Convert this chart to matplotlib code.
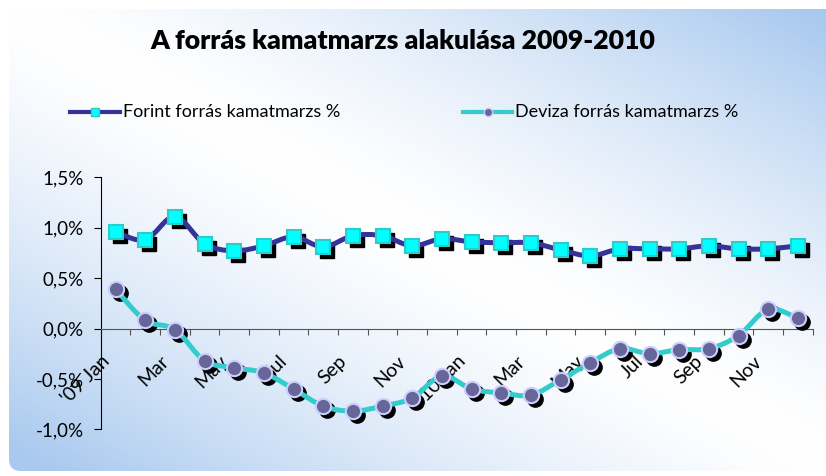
import matplotlib
matplotlib.use("Agg")
import matplotlib.pyplot as plt
import matplotlib.transforms as mtransforms
from matplotlib.patches import FancyBboxPatch, PathPatch
from matplotlib.path import Path
from matplotlib.lines import Line2D
import numpy as np

plt.rcParams['font.family'] = ['Lato', 'DejaVu Sans']

# ── Adatok ───────────────────────────────────────────────────────────────────
TITLE = "A forrás kamatmarzs alakulása 2009-2010"
SERIES_FORINT = "Forint forrás kamatmarzs %"
SERIES_DEVIZA = "Deviza forrás kamatmarzs %"

month_labels = ["'09 Jan", "Mar", "May", "Jul", "Sep", "Nov",
                "'10 Jan", "Mar", "May", "Jul", "Sep", "Nov"]

forint = [0.96, 0.88, 1.11, 0.84, 0.77, 0.82, 0.91, 0.81, 0.92, 0.92, 0.82, 0.89,
          0.86, 0.85, 0.85, 0.78, 0.72, 0.79, 0.79, 0.79, 0.82, 0.79, 0.79, 0.82]
deviza = [0.39, 0.08, -0.01, -0.32, -0.39, -0.44, -0.60, -0.77, -0.82, -0.77, -0.69, -0.47,
          -0.60, -0.64, -0.66, -0.51, -0.34, -0.20, -0.25, -0.21, -0.20, -0.07, 0.19, 0.10]

yticks = [-1.0, -0.5, 0.0, 0.5, 1.0, 1.5]

# ── Színek ───────────────────────────────────────────────────────────────────
C_FORINT_LINE = "#333399"
C_FORINT_FACE = "#00ffff"
C_FORINT_EDGE = "#2ccccc"
C_DEVIZA_LINE = "#33cccc"
C_DEVIZA_FACE = "#666699"
C_DEVIZA_EDGE = "#ccccff"
C_BLUE = np.array([169, 201, 239]) / 255.0

W, H = 826, 476


def smooth_path(xs, ys):
    """Excel-szerű simított vonal (Catmull-Rom -> Bezier)."""
    pts = np.column_stack([xs, ys])
    n = len(pts)
    verts = [pts[0]]
    codes = [Path.MOVETO]
    for i in range(n - 1):
        p0 = pts[max(i - 1, 0)]
        p1 = pts[i]
        p2 = pts[i + 1]
        p3 = pts[min(i + 2, n - 1)]
        c1 = p1 + (p2 - p0) / 6.0
        c2 = p2 - (p3 - p1) / 6.0
        verts += [c1, c2, p2]
        codes += [Path.CURVE4] * 3
    return Path(verts, codes)


fig = plt.figure(figsize=(W / 100, H / 100), dpi=100)

# ── Háttér: átlós színátmenet ───────────────────────────────────────────────
bg = fig.add_axes([0, 0, 1, 1], zorder=0)
bg.set_xlim(0, W)
bg.set_ylim(H, 0)
bg.axis("off")
x0, y0, x1, y1 = 9, 9, W + 20, 471
gx = np.linspace(0, 1, 300)
gy = np.linspace(0, 1, 200)
U, V = np.meshgrid(gx, gy)
t = np.clip(np.abs(U - V) * 1.05, 0, 1) ** 1.4
img = (1 - t)[..., None] * np.ones(3) + t[..., None] * C_BLUE
im = bg.imshow(img, extent=[x0, x1, y1, y0], aspect="auto", interpolation="bilinear")
box = FancyBboxPatch((x0, y0), x1 - x0, y1 - y0, boxstyle="round,pad=0,rounding_size=12",
                     transform=bg.transData, facecolor="none", edgecolor="none")
bg.add_patch(box)
im.set_clip_path(box)

bg.text(403, 41, TITLE, ha="center", va="center", fontsize=19.2, fontweight="heavy")

# jelmagyarázat
for (lx0, lx1, ty, label, lc, mk, mf, me, ms) in [
        (70, 120, 112, SERIES_FORINT, C_FORINT_LINE, "s", C_FORINT_FACE, C_FORINT_EDGE, 6),
        (463, 512, 112, SERIES_DEVIZA, C_DEVIZA_LINE, "o", C_DEVIZA_FACE, C_DEVIZA_EDGE, 6)]:
    bg.add_line(Line2D([lx0, lx1], [ty, ty], color=lc, lw=3))
    bg.add_line(Line2D([(lx0 + lx1) / 2], [ty], marker=mk, markersize=ms,
                       markerfacecolor=mf, markeredgecolor=me, markeredgewidth=1))
    bg.text(lx1 + 3, ty, label, ha="left", va="center", fontsize=13)

# ── Fő diagram ───────────────────────────────────────────────────────────────
ax = fig.add_axes([100.7 / W, 1 - 429.3 / H, 712 / W, 252 / H], zorder=1)
ax.patch.set_alpha(0)
n = len(forint)
xs = np.arange(n) + 0.5
ax.set_xlim(0, n)
ax.set_ylim(-1.0, 1.5)

shadow = ax.transData + mtransforms.ScaledTranslation(4 / 100, -4 / 100, fig.dpi_scale_trans)

for vals, lc, mk, mf, me, ms in [
        (deviza, C_DEVIZA_LINE, "o", C_DEVIZA_FACE, C_DEVIZA_EDGE, 11),
        (forint, C_FORINT_LINE, "s", C_FORINT_FACE, C_FORINT_EDGE, 10)]:
    ax.plot(xs, vals, linestyle="none", marker=mk, markersize=ms, color="black",
            transform=shadow, zorder=3)
    ax.add_patch(PathPatch(smooth_path(xs, vals), facecolor="none", edgecolor=lc,
                           lw=3.6, capstyle="round", joinstyle="round", zorder=4))
    ax.plot(xs, vals, linestyle="none", marker=mk, markersize=ms, markerfacecolor=mf,
            markeredgecolor=me, markeredgewidth=1.5, zorder=5)

ax.spines["top"].set_visible(False)
ax.spines["right"].set_visible(False)
ax.spines["bottom"].set_position(("data", 0))
ax.spines["bottom"].set_color("#555555")
ax.spines["left"].set_color("black")
ax.set_yticks(yticks)
ax.set_yticklabels([f"{v:.1f}%".replace(".", ",") for v in yticks], fontsize=13.5)
ax.tick_params(axis="y", direction="out", length=5, pad=7)
ax.set_xticks(np.arange(n + 1))
ax.set_xticklabels([])
ax.tick_params(axis="x", direction="out", length=4, color="#555555")

for i, lab in enumerate(month_labels):
    ax.annotate(lab, xy=(2 * i + 0.5, 0), xytext=(-15, -24), textcoords="offset pixels",
                rotation=45, rotation_mode="anchor", ha="right", va="top",
                fontsize=14, zorder=2)

fig.savefig("out.png", dpi=100)
